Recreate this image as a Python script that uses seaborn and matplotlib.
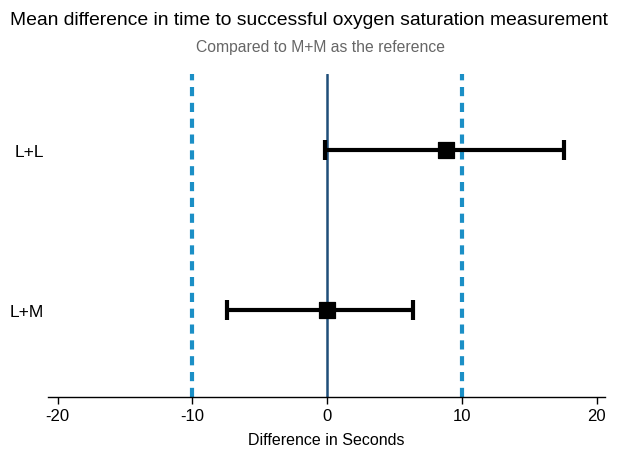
import numpy as np
import pandas as pd
import matplotlib
matplotlib.use("Agg")
import matplotlib.pyplot as plt
import seaborn as sns

# data
groups = ["L+L", "L+M"]
group_pos = [2, 1]
mean_diff = [8.8, 0.0]
ci_low = [-0.15, -7.4]
ci_high = [17.6, 6.4]
equiv_bounds = [-10, 10]
x_ticks = [-20, -10, 0, 10, 20]

df = pd.DataFrame({"group": groups, "pos": group_pos, "mean": mean_diff,
                   "low": ci_low, "high": ci_high})

sns.set_theme(style="white")
plt.rcParams["font.family"] = ["Liberation Sans", "DejaVu Sans"]

fig = plt.figure(figsize=(6.17, 4.52), dpi=100)
ax = fig.add_axes([0.078, 0.119, 0.902, 0.715])

# equivalence margins and reference line
for b in equiv_bounds:
    ax.axvline(b, color="#1b8fc6", linestyle=(0, (2.2, 1.6)), linewidth=3, zorder=1)
ax.axvline(0, color="#1f4e79", linewidth=1.8, zorder=2)

# confidence intervals
ax.errorbar(df["mean"], df["pos"],
            xerr=[df["mean"] - df["low"], df["high"] - df["mean"]],
            fmt="none", ecolor="black", elinewidth=3, capsize=7, capthick=3, zorder=3)
sns.scatterplot(data=df, x="mean", y="pos", marker="s", s=125, color="black",
                edgecolor="black", ax=ax, zorder=4, legend=False)

ax.set_xlim(-20.7, 20.6)
ax.set_ylim(0.45, 2.48)
ax.set_xticks(x_ticks)
ax.set_xticklabels([str(t) for t in x_ticks], fontsize=12, color="black")
ax.set_yticks(group_pos)
ax.set_yticklabels(groups, fontsize=12.5, color="black")
ax.tick_params(axis="x", bottom=True, length=5, width=1, color="black", pad=3)
ax.tick_params(axis="y", left=False, length=0, pad=3)
ax.set_xlabel("Difference in Seconds", fontsize=11.5, color="black", labelpad=6)
ax.set_ylabel("")

sns.despine(ax=ax, left=True)
ax.spines["bottom"].set_color("black")
ax.spines["bottom"].set_linewidth(1)

fig.text(0.5, 0.955, "Mean difference in time to successful oxygen saturation measurement",
         ha="center", va="center", fontsize=13.9, color="black")
fig.text(0.52, 0.896, "Compared to M+M as the reference",
         ha="center", va="center", fontsize=11.3, color="#666666")

fig.savefig("out.png", dpi=100)
